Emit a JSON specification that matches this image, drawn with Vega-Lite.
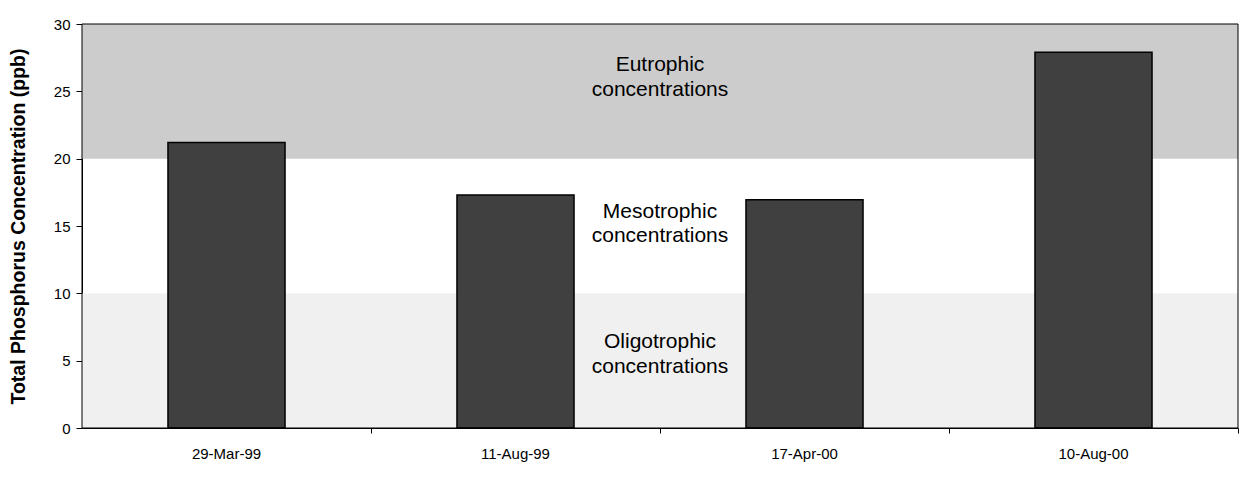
{
  "$schema": "https://vega.github.io/schema/vega-lite/v6.json",
  "width": 1156,
  "height": 404,
  "autosize": {"type": "none"},
  "padding": {"left": 82, "top": 24, "right": 21, "bottom": 54},
  "background": "white",
  "config": {
    "font": "Liberation Sans",
    "view": {"stroke": null},
    "axis": {"grid": false, "domainColor": "black", "tickColor": "black", "labelColor": "black", "titleColor": "black", "labelFont": "Liberation Sans", "titleFont": "Liberation Sans"}
  },
  "datasets": {
    "zones": [
      {"zone": "Eutrophic", "low": 20, "high": 30},
      {"zone": "Oligotrophic", "low": 0, "high": 10}
    ],
    "samples": [
      {"date": "29-Mar-99", "tp": 21.2},
      {"date": "11-Aug-99", "tp": 17.3},
      {"date": "17-Apr-00", "tp": 16.95},
      {"date": "10-Aug-00", "tp": 27.9}
    ],
    "notes": [
      {"label": ["Eutrophic", "concentrations"], "at": 26.5},
      {"label": ["Mesotrophic", "concentrations"], "at": 15.63},
      {"label": ["Oligotrophic", "concentrations"], "at": 5.94}
    ],
    "frame": [
      {"low": 0, "high": 30}
    ]
  },
  "layer": [
    {
      "data": {"name": "zones"},
      "mark": {"type": "rect"},
      "encoding": {
        "y": {"field": "low", "type": "quantitative", "scale": {"domain": [0, 30], "nice": false}},
        "y2": {"field": "high"},
        "color": {"field": "zone", "type": "nominal", "scale": {"domain": ["Eutrophic", "Oligotrophic"], "range": ["#cccccc", "#f0f0f0"]}, "legend": null}
      }
    },
    {
      "data": {"name": "samples"},
      "mark": {"type": "bar", "color": "#404040", "stroke": "black", "strokeWidth": 1.5},
      "encoding": {
        "x": {
          "field": "date", "type": "nominal", "sort": null,
          "scale": {"paddingInner": 0.595, "paddingOuter": 0.2975},
          "axis": {"title": null, "labelAngle": 0, "labelFontSize": 15, "tickSize": 5, "labelPadding": 13, "bandPosition": 1.7346}
        },
        "y": {
          "field": "tp", "type": "quantitative",
          "scale": {"domain": [0, 30], "nice": false},
          "axis": {"title": "Total Phosphorus Concentration (ppb)", "titleFontSize": 19.5, "titleFontWeight": "bold", "titlePadding": 25, "values": [0, 5, 10, 15, 20, 25, 30], "labelFontSize": 15, "tickSize": 6, "labelPadding": 6}
        }
      }
    },
    {
      "data": {"name": "notes"},
      "mark": {"type": "text", "fontSize": 21, "font": "Liberation Sans", "color": "black", "align": "center", "baseline": "alphabetic", "lineHeight": 24.5},
      "encoding": {
        "y": {"field": "at", "type": "quantitative"},
        "text": {"field": "label"}
      }
    },
    {
      "data": {"name": "frame"},
      "mark": {"type": "rect", "fill": null, "stroke": "black", "strokeWidth": 1},
      "encoding": {
        "y": {"field": "low", "type": "quantitative"},
        "y2": {"field": "high"}
      }
    }
  ]
}
